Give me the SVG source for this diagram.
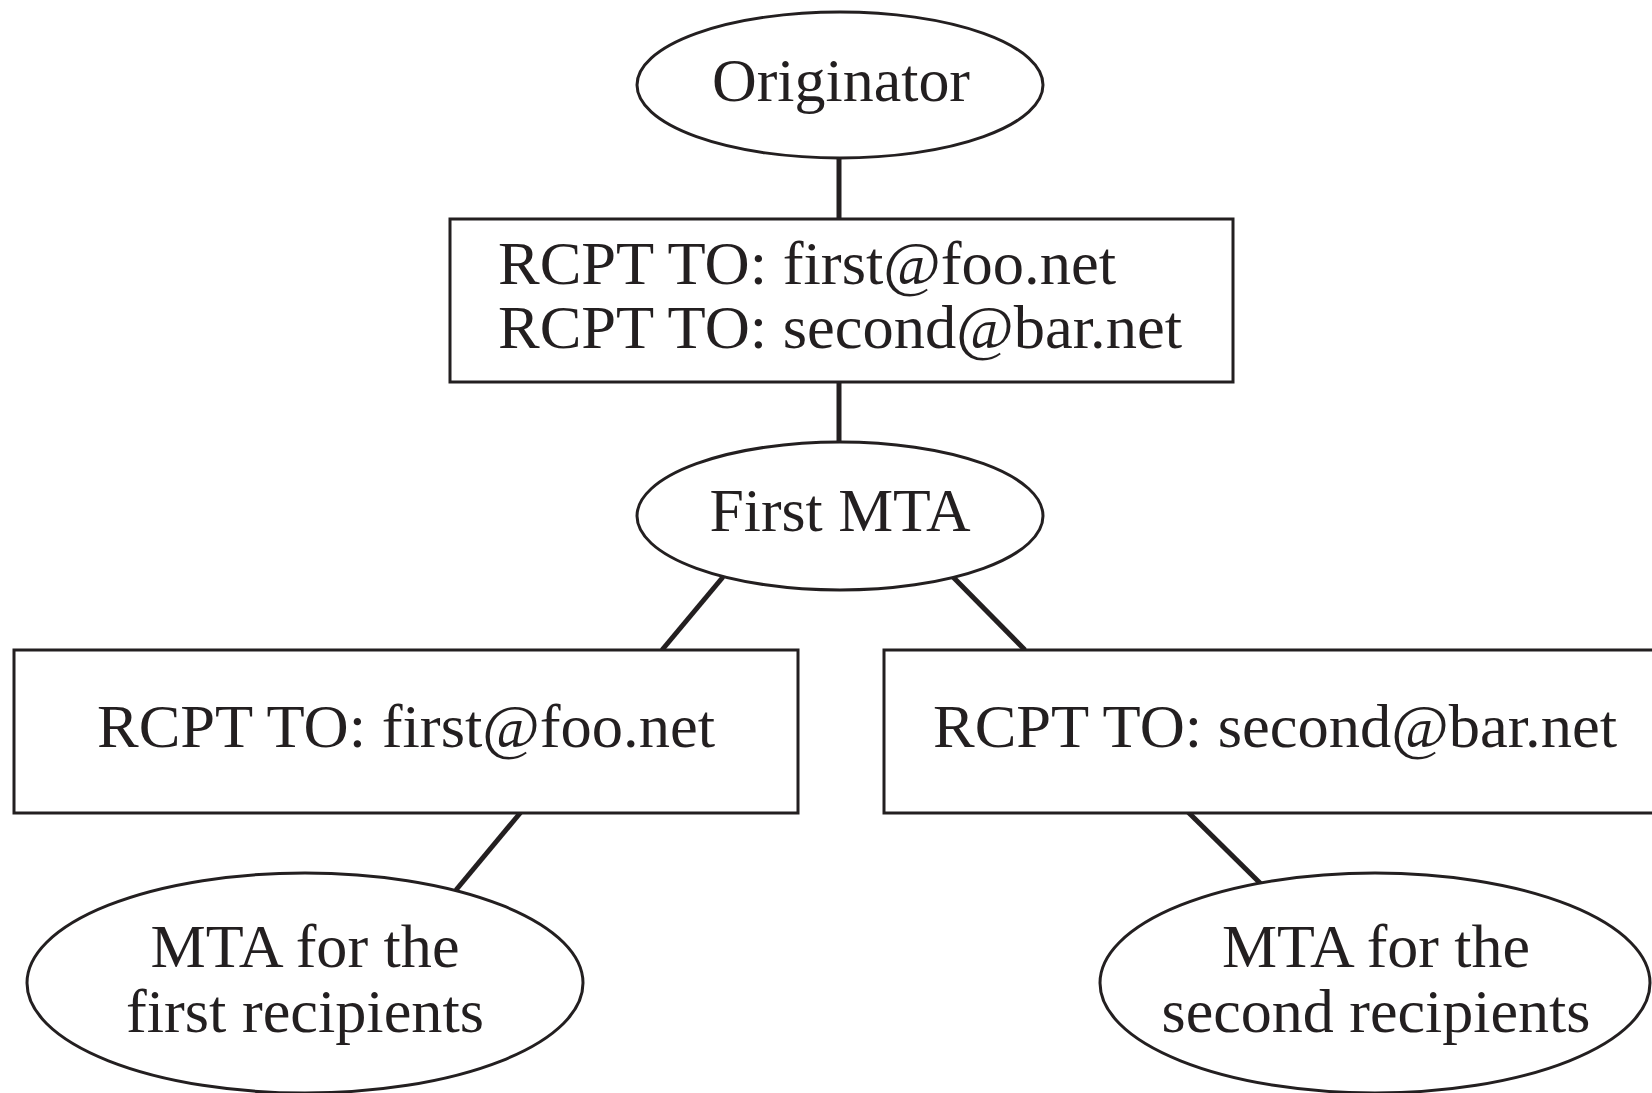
<svg xmlns="http://www.w3.org/2000/svg" width="1652" height="1093" viewBox="0 0 1652 1093">
<style>
.shape{fill:#fff;stroke:#231f20;stroke-width:3}
.conn{stroke:#231f20;stroke-width:5;fill:none}
.t{font-family:"Liberation Serif","Times New Roman",serif;font-size:62px;fill:#231f20;text-anchor:middle}
.tl{font-family:"Liberation Serif","Times New Roman",serif;font-size:62px;fill:#231f20}
</style>
<rect width="1652" height="1093" fill="#fff"/>
<g id="connectors">
<line class="conn" x1="839" y1="157" x2="839" y2="220"/>
<line class="conn" x1="839" y1="381" x2="839" y2="443"/>
<line class="conn" x1="723" y1="577" x2="662" y2="650"/>
<line class="conn" x1="953" y1="577" x2="1025" y2="650"/>
<line class="conn" x1="521" y1="812" x2="456" y2="890"/>
<line class="conn" x1="1188" y1="812" x2="1261" y2="884"/>
</g>
<g id="originator">
<ellipse class="shape" cx="840" cy="85" rx="203" ry="73"/>
<text class="t" x="841" y="101" textLength="258" lengthAdjust="spacingAndGlyphs">Originator</text>
</g>
<g id="rcpt-both">
<rect class="shape" x="450" y="219" width="783" height="163"/>
<text class="tl" x="498" y="284" textLength="618" lengthAdjust="spacingAndGlyphs">RCPT TO: first@foo.net</text>
<text class="tl" x="498" y="348" textLength="684" lengthAdjust="spacingAndGlyphs">RCPT TO: second@bar.net</text>
</g>
<g id="first-mta">
<ellipse class="shape" cx="840" cy="516" rx="203" ry="74"/>
<text class="t" x="840" y="531" textLength="261" lengthAdjust="spacingAndGlyphs">First MTA</text>
</g>
<g id="rcpt-first">
<rect class="shape" x="14" y="650" width="784" height="163"/>
<text class="tl" x="97" y="747" textLength="618" lengthAdjust="spacingAndGlyphs">RCPT TO: first@foo.net</text>
</g>
<g id="rcpt-second">
<rect class="shape" x="884" y="650" width="790" height="163"/>
<text class="tl" x="933" y="747" textLength="684" lengthAdjust="spacingAndGlyphs">RCPT TO: second@bar.net</text>
</g>
<g id="mta-first">
<ellipse class="shape" cx="305" cy="983" rx="278" ry="110"/>
<text class="t" x="305" y="967" textLength="309" lengthAdjust="spacingAndGlyphs">MTA for the</text>
<text class="t" x="305" y="1032" textLength="358" lengthAdjust="spacingAndGlyphs">first recipients</text>
</g>
<g id="mta-second">
<ellipse class="shape" cx="1375" cy="983" rx="275" ry="110"/>
<text class="t" x="1376" y="967" textLength="308" lengthAdjust="spacingAndGlyphs">MTA for the</text>
<text class="t" x="1376" y="1032" textLength="429" lengthAdjust="spacingAndGlyphs">second recipients</text>
</g>
</svg>
